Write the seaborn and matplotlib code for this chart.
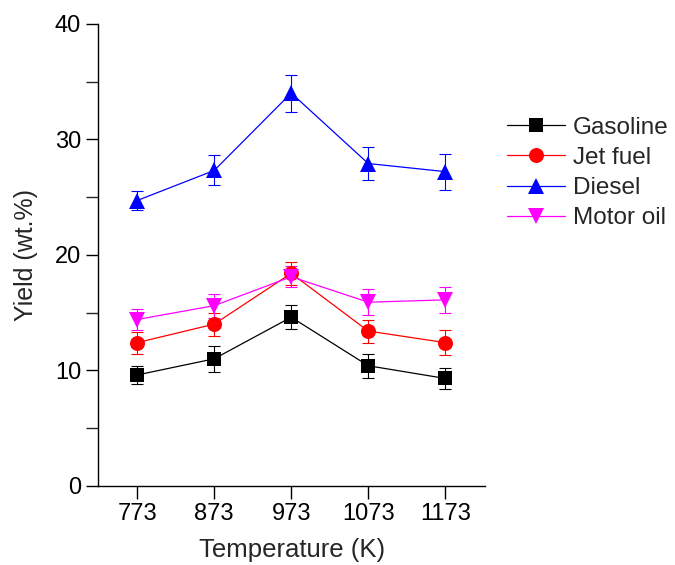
import pandas as pd
import seaborn as sns
import matplotlib.pyplot as plt
from matplotlib.lines import Line2D
from matplotlib.ticker import MultipleLocator

temps = [773, 873, 973, 1073, 1173]
gasoline = [9.6, 11.0, 14.6, 10.4, 9.3]
gasoline_err = [0.75, 1.1, 1.05, 1.05, 0.9]
jet_fuel = [12.4, 14.0, 18.4, 13.4, 12.4]
jet_fuel_err = [0.95, 1.0, 1.0, 1.0, 1.05]
diesel = [24.7, 27.3, 34.0, 27.9, 27.2]
diesel_err = [0.8, 1.3, 1.6, 1.45, 1.55]
motor_oil = [14.4, 15.6, 18.1, 15.9, 16.1]
motor_oil_err = [0.95, 1.05, 0.9, 1.15, 1.1]

series = ['Gasoline', 'Jet fuel', 'Diesel', 'Motor oil']
colors = ['black', 'red', 'blue', 'magenta']
marks = ['s', 'o', '^', 'v']
msizes = [9.5, 10.8, 12, 12]

values = [gasoline, jet_fuel, diesel, motor_oil]
errors = [gasoline_err, jet_fuel_err, diesel_err, motor_oil_err]

df = pd.DataFrame({
    'Temperature': temps * len(series),
    'Yield': sum(values, []),
    'err': sum(errors, []),
    'Product': [s for s in series for _ in temps],
})

sns.set_style('ticks')
plt.rcParams['font.family'] = ['Liberation Sans', 'DejaVu Sans']

fig = plt.figure(figsize=(6.75, 5.65), dpi=100)
ax = fig.add_axes([0.145, 0.14, 0.574, 0.818])

sns.lineplot(data=df, x='Temperature', y='Yield', hue='Product', style='Product',
             palette=dict(zip(series, colors)), markers=dict(zip(series, marks)),
             dashes=False, linewidth=0.9, markersize=10, markeredgewidth=0,
             ax=ax, zorder=3, legend=False)
for line, ms in zip(ax.lines[:4], msizes):
    line.set_markersize(ms)

# error bars
for name, c in zip(series, colors):
    sub = df[df['Product'] == name]
    ax.errorbar(sub['Temperature'], sub['Yield'], yerr=sub['err'], fmt='none',
                ecolor=c, elinewidth=0.8, capsize=4, capthick=0.8, zorder=2)

ax.set_xlim(722, 1225)
ax.set_ylim(0, 40)
ax.set_xticks(temps)
ax.set_xticklabels([str(t) for t in temps])
ax.yaxis.set_major_locator(MultipleLocator(10))
ax.yaxis.set_minor_locator(MultipleLocator(5))
ax.tick_params(axis='both', which='major', direction='out', length=9, width=1,
               labelsize=17, colors='black', pad=3)
ax.tick_params(axis='y', which='minor', direction='out', length=9, width=1)
for sp in ['left', 'bottom']:
    ax.spines[sp].set_linewidth(1)
    ax.spines[sp].set_color('black')
sns.despine(ax=ax)

ax.set_xlabel('Temperature (K)', fontsize=18.5, labelpad=10)
ax.set_ylabel('Yield (wt.%)', fontsize=18, labelpad=12)

handles = [Line2D([], [], color=c, marker=m, markersize=ms, markeredgewidth=0,
                  linewidth=0.9) for c, m, ms in zip(colors, marks, msizes)]
fig.legend(handles, series, loc='upper left', bbox_to_anchor=(0.751, 0.793),
           frameon=False, fontsize=17.5, handlelength=2.4, handletextpad=0.3,
           labelspacing=0.33, borderpad=0, borderaxespad=0)

fig.savefig('out.png', dpi=100)
